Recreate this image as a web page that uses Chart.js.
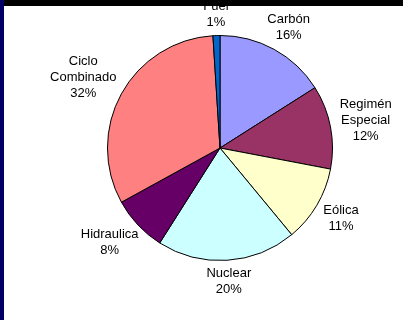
<!DOCTYPE html>
<html>
<head>
<meta charset="utf-8">
<script src="https://cdn.jsdelivr.net/npm/chart.js@4"></script>
<style>
  html, body { margin: 0; padding: 0; background: #fff; }
  #wrap { width: 403px; height: 320px; position: relative; }
</style>
</head>
<body>
<div id="wrap"><canvas id="pieChart"></canvas></div>
<script>
// Generation mix (clockwise from 12 o'clock)
const categories = [['Carbón'], ['Regimén', 'Especial'], ['Eólica'], ['Nuclear'], ['Hidraulica'], ['Ciclo', 'Combinado'], ['Fuel']];
const shares = [16, 12, 11, 20, 8, 32, 1];
const sliceColors = ['#9999FF', '#993366', '#FFFFCC', '#CCFFFF', '#660066', '#FF8080', '#0066CC'];

// Outside labels: name lines + percentage, pushed out along the slice's mid angle
const outsideLabels = {
    id: 'outsideLabels',
    afterDatasetsDraw(chart) {
        const ctx = chart.ctx;
        const meta = chart.getDatasetMeta(0);
        const total = shares.reduce((a, b) => a + b, 0);
        const lineH = 16;
        ctx.save();
        ctx.font = '13px "Liberation Sans", Arial, sans-serif';
        ctx.fillStyle = '#000';
        ctx.textAlign = 'center';
        ctx.textBaseline = 'middle';
        meta.data.forEach((arc, i) => {
            const lines = categories[i].concat([Math.round(shares[i] / total * 100) + '%']);
            const mid = (arc.startAngle + arc.endAngle) / 2;
            const ux = Math.cos(mid), uy = Math.sin(mid);
            // a bit more room at the sides than above/below
            const r = arc.outerRadius + 9 * Math.abs(ux) + 5 * Math.abs(uy);
            const w = Math.max(...lines.map(l => ctx.measureText(l).width));
            const h = lines.length * lineH;
            const cx = arc.x + ux * r + ux * w / 2;
            const cy = arc.y + uy * r + uy * h / 2;
            lines.forEach((l, j) => {
                ctx.fillText(l, cx, cy - h / 2 + lineH / 2 + j * lineH);
            });
        });
        ctx.restore();
    }
};

// Slide frame: navy strip on the left, black bar on top
const frame = {
    id: 'frame',
    beforeDraw(chart) {
        const ctx = chart.ctx;
        ctx.save();
        ctx.fillStyle = '#fff';
        ctx.fillRect(0, 0, chart.width, chart.height);
        ctx.restore();
    },
    afterDraw(chart) {
        const ctx = chart.ctx;
        ctx.save();
        ctx.fillStyle = '#000';
        ctx.fillRect(4, 0, chart.width - 4, 6);
        ctx.fillStyle = '#000066';
        ctx.fillRect(0, 0, 4, chart.height);
        ctx.restore();
    }
};

document.addEventListener('DOMContentLoaded', function() {
    const canvas = document.getElementById('pieChart');
    new Chart(canvas.getContext('2d'), {
        type: 'pie',
        data: {
            labels: categories.map(c => c.join(' ')),
            datasets: [{
                data: shares,
                backgroundColor: sliceColors,
                borderColor: '#000',
                borderWidth: 1
            }]
        },
        options: {
            responsive: true,
            maintainAspectRatio: false,
            animation: false,
            layout: {
                padding: { left: 107, right: 70, top: 35, bottom: 59 }
            },
            plugins: {
                legend: { display: false },
                tooltip: { enabled: false }
            }
        },
        plugins: [frame, outsideLabels]
    });
});
</script>
</body>
</html>
